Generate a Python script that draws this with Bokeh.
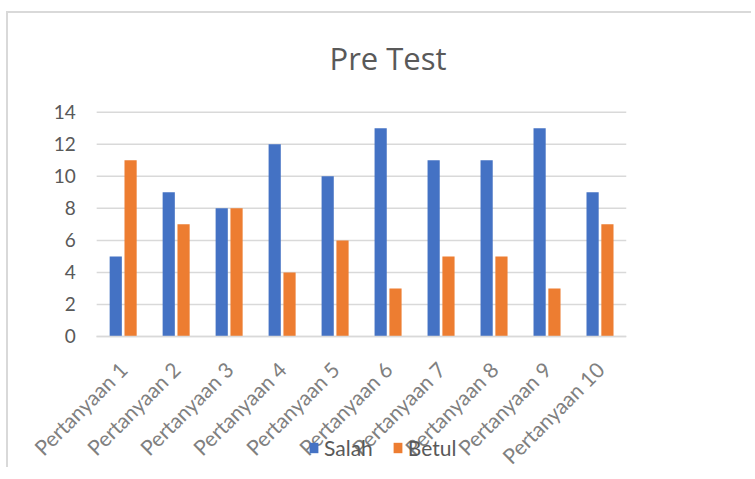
import math
from bokeh.plotting import figure
from bokeh.models import ColumnDataSource, Legend, LegendItem, Range1d, FixedTicker
from bokeh.transform import dodge
from bokeh.embed import file_html
from bokeh.resources import INLINE

categories = ["Pertanyaan 1", "Pertanyaan 2", "Pertanyaan 3", "Pertanyaan 4", "Pertanyaan 5",
              "Pertanyaan 6", "Pertanyaan 7", "Pertanyaan 8", "Pertanyaan 9", "Pertanyaan 10"]
salah = [5, 9, 8, 12, 10, 13, 11, 11, 13, 9]
betul = [11, 7, 8, 4, 6, 3, 5, 5, 3, 7]
y_ticks = [0, 2, 4, 6, 8, 10, 12, 14]

FONT = "Lato"
n = len(categories)
x_pos = [i + 0.5 for i in range(n)]          # category slots on a numeric axis
src = ColumnDataSource(dict(x=x_pos, cat=categories, salah=salah, betul=betul))

# frame reaches left of the first slot, above the top tick and below zero so the
# tick labels and the legend (which overlaps the rotated labels) are not clipped
p = figure(x_range=Range1d(-1.4, n), y_range=Range1d(-8, 14.8), width=745, height=456,
           output_backend="svg", toolbar_location=None,
           min_border_left=14, min_border_right=127, min_border_top=86, min_border_bottom=5)
p.styles = {"border-left": "2px solid #d9d9d9", "border-top": "2px solid #d9d9d9"}
p.margin = (11, 0, 0, 6)

# horizontal grid lines over the category area only
p.segment(x0=0, x1=n, y0=y_ticks, y1=y_ticks, line_color="#d9d9d9", line_width=1.5)

r1 = p.vbar(x=dodge("x", -0.14), top="salah", width=0.23, source=src,
            fill_color="#4472C4", line_color=None)
r2 = p.vbar(x=dodge("x", 0.14), top="betul", width=0.23, source=src,
            fill_color="#ED7D31", line_color=None)

p.title.text = "Pre Test"
p.title.align = "left"
p.title.text_font = "Open Sans"
p.title.text_font_style = "normal"
p.title.text_font_size = "31px"
p.title.text_color = "#595959"
p.title.offset = 307
p.title.standoff = 42

p.outline_line_color = None
p.xgrid.visible = False
p.ygrid.visible = False

p.yaxis.fixed_location = 0
p.yaxis.ticker = FixedTicker(ticks=y_ticks)
p.yaxis.axis_line_color = None
p.yaxis.major_tick_line_color = None
p.yaxis.minor_tick_line_color = None
p.yaxis.major_label_text_font = FONT
p.yaxis.major_label_text_font_size = "19px"
p.yaxis.major_label_text_color = "#595959"
p.yaxis.major_label_standoff = 15

p.xaxis.fixed_location = 0
p.xaxis.bounds = (0, n)
p.xaxis.ticker = FixedTicker(ticks=x_pos)
p.xaxis.major_label_overrides = {x: c for x, c in zip(x_pos, categories)}
p.xaxis.axis_line_color = "#d9d9d9"
p.xaxis.axis_line_width = 1.5
p.xaxis.major_tick_line_color = None
p.xaxis.minor_tick_line_color = None
p.xaxis.major_label_orientation = math.pi / 4
p.xaxis.major_label_text_font = FONT
p.xaxis.major_label_text_font_size = "21px"
p.xaxis.major_label_text_color = "#808080"
p.xaxis.major_label_standoff = 23

legend = Legend(items=[LegendItem(label="Salah", renderers=[r1]),
                       LegendItem(label="Betul", renderers=[r2])],
                location=(286, 4), orientation="horizontal")
legend.background_fill_alpha = 0
legend.border_line_alpha = 0
legend.padding = 0
legend.margin = 0
legend.spacing = 19
legend.glyph_width = 11
legend.glyph_height = 13
legend.label_standoff = 5
legend.label_text_font = FONT
legend.label_text_font_size = "21px"
legend.label_text_color = "#595959"
p.add_layout(legend)

open("out.html", "w").write(file_html(p, INLINE))
